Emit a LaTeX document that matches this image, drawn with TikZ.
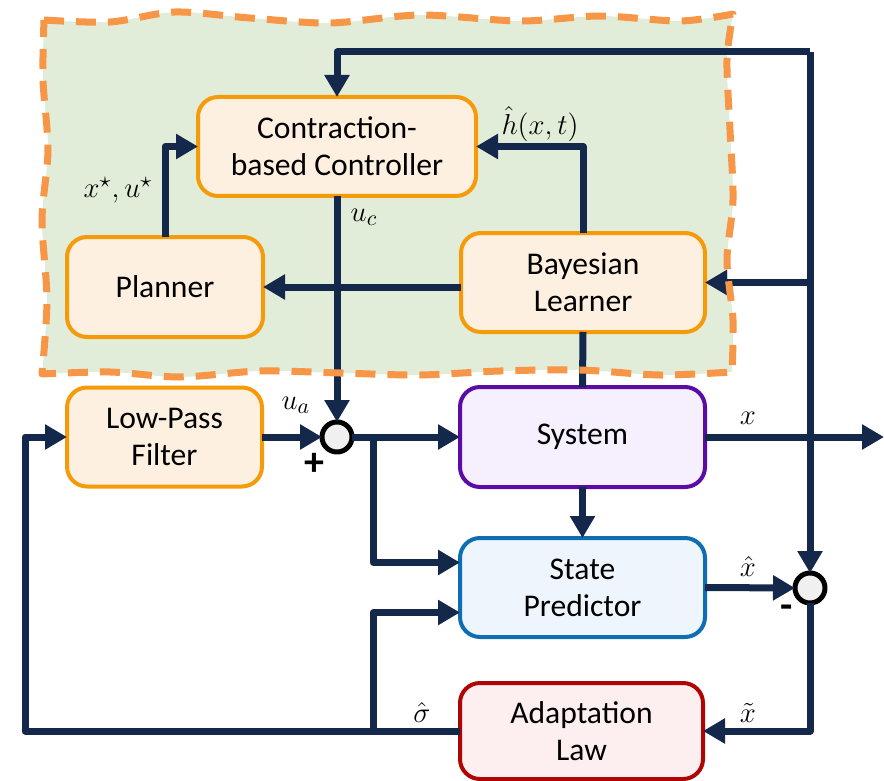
\documentclass[tikz,border=0pt]{standalone}
\usepackage[no-math]{fontspec}
\setmainfont{Carlito}
\usetikzlibrary{arrows.meta}
\definecolor{wirecol}{RGB}{20,40,75}
\definecolor{orline}{RGB}{245,155,10}
\definecolor{orfill}{RGB}{253,240,224}
\definecolor{puline}{RGB}{90,12,165}
\definecolor{pufill}{RGB}{246,239,253}
\definecolor{blline}{RGB}{15,110,178}
\definecolor{blfill}{RGB}{239,245,252}
\definecolor{reline}{RGB}{175,5,5}
\definecolor{refill}{RGB}{253,239,239}
\definecolor{regfill}{RGB}{226,237,217}
\definecolor{regline}{RGB}{247,150,70}
\newcommand{\learnregion}{(44,20) -- plot[smooth] coordinates {(44,20) (110,22) (175,12) (250,18) (330,23) (420,15) (520,21) (600,16) (680,21) (733,14)}
 -- plot[smooth] coordinates {(733,14) (727,60) (730,130) (733,200) (727,260) (733,320) (732,372)}
 -- plot[smooth] coordinates {(732,372) (660,375) (580,370) (500,371) (420,375) (340,373) (260,371) (180,377) (110,372) (42,374)}
 -- plot[smooth] coordinates {(42,374) (47,300) (42,220) (48,150) (43,80) (44,20)} -- cycle}
\begin{document}
\begin{tikzpicture}[x=0.5pt,y=-0.5pt,inner sep=0pt,outer sep=0pt,line join=round,
block/.style={draw,rectangle,rounded corners=10pt,line width=2pt,align=center,font=\fontsize{15.8}{18.5}\selectfont},
orblock/.style={block,draw=orline,fill=orfill},
sumnode/.style={draw,circle,fill=gray!12,line width=2.5pt,minimum size=15pt},
wire/.style={draw=wirecol,line width=3.5pt},
flow/.style={wire,-{Triangle[length=11pt,width=12pt]}},
lab/.style={font=\fontsize{15}{17}\selectfont},
sign/.style={font=\fontsize{20}{20}\selectfont\bfseries}]
\useasboundingbox (0,0) rectangle (884,781);
% learning part
\fill[regfill] \learnregion;
\draw (337,146.5) node[orblock,minimum width=139pt,minimum height=49.5pt] (ctrl) {Contraction-\\based Controller};
\draw (165,287) node[orblock,minimum width=98pt,minimum height=50pt] (planner) {Planner};
\draw (583,282.5) node[orblock,minimum width=122pt,minimum height=49.5pt] (bayes) {Bayesian\\Learner};
% L1 part
\draw (164.5,437) node[orblock,minimum width=97.5pt,minimum height=49.5pt] (lpf) {Low-Pass\\Filter};
\draw (582.5,437) node[block,draw=puline,fill=pufill,minimum width=122.5pt,minimum height=50pt] (sys) {System};
\draw (582.5,587.5) node[block,draw=blline,fill=blfill,minimum width=122.5pt,minimum height=49.5pt] (pred) {State\\Predictor};
\draw (581.5,731) node[block,draw=reline,fill=refill,minimum width=121.5pt,minimum height=48pt] (adapt) {Adaptation\\Law};
\draw (337,437) node[sumnode] (sum1) {};
\draw (810,588) node[sumnode] (sum2) {};
\coordinate (topR) at (810,52);
\coordinate (out) at (884,437);
\coordinate (split1) at (373,437);
\coordinate (split2) at (373,732);
\coordinate (fbL) at (25,437);
% connectors
\draw[flow] (topR) -| (ctrl.north);
\draw[flow] (topR) -- (sum2.north);
\draw[flow] (topR |- bayes.east) -- (bayes.east);
\draw[flow] (bayes.north) |- (ctrl.east);
\draw[flow] (bayes.west |- planner.east) -- (planner.east);
\draw[flow] (planner.north) |- (ctrl.west);
\draw[flow] (ctrl.south) -- (sum1.north);
\draw[wire] (bayes.south) -- (sys.north);
\draw[flow] (lpf.east) -- (sum1.west);
\draw[flow] (sum1.east) -- (sys.west);
\draw[flow] (split1) |- ([yshift=12.5pt]pred.west);
\draw[flow] (sys.south) -- (pred.north);
\draw[flow] (sys.east) -- (out);
\draw[flow] (pred.east) -- (sum2.west);
\draw[flow] (sum2.south) |- (adapt.east);
\draw[flow] (adapt.west) -| (fbL) -- (lpf.west);
\draw[flow] (split2) |- ([yshift=-12.5pt]pred.west);
% labels
\draw (540,124) node[lab] (lh) {$\hat{h}(x,t)$};
\draw (118,190) node[lab] (lref) {$x^{\star},u^{\star}$};
\draw (364,217) node[lab] (luc) {$u_c$};
\draw (296,405) node[lab] (lua) {$u_a$};
\draw (748,418) node[lab] (lx) {$x$};
\draw (748,566) node[lab] (lxh) {$\hat{x}$};
\draw (748,713) node[lab] (lxt) {$\tilde{x}$};
\draw (422,712) node[lab] (lsig) {$\hat{\sigma}$};
\draw (314,464) node[sign] (plus) {+};
\draw (787,612) node[sign] (minus) {-};
\draw[regline,line width=3.5pt,dash pattern=on 10pt off 6pt] \learnregion;
\end{tikzpicture}
\end{document}
